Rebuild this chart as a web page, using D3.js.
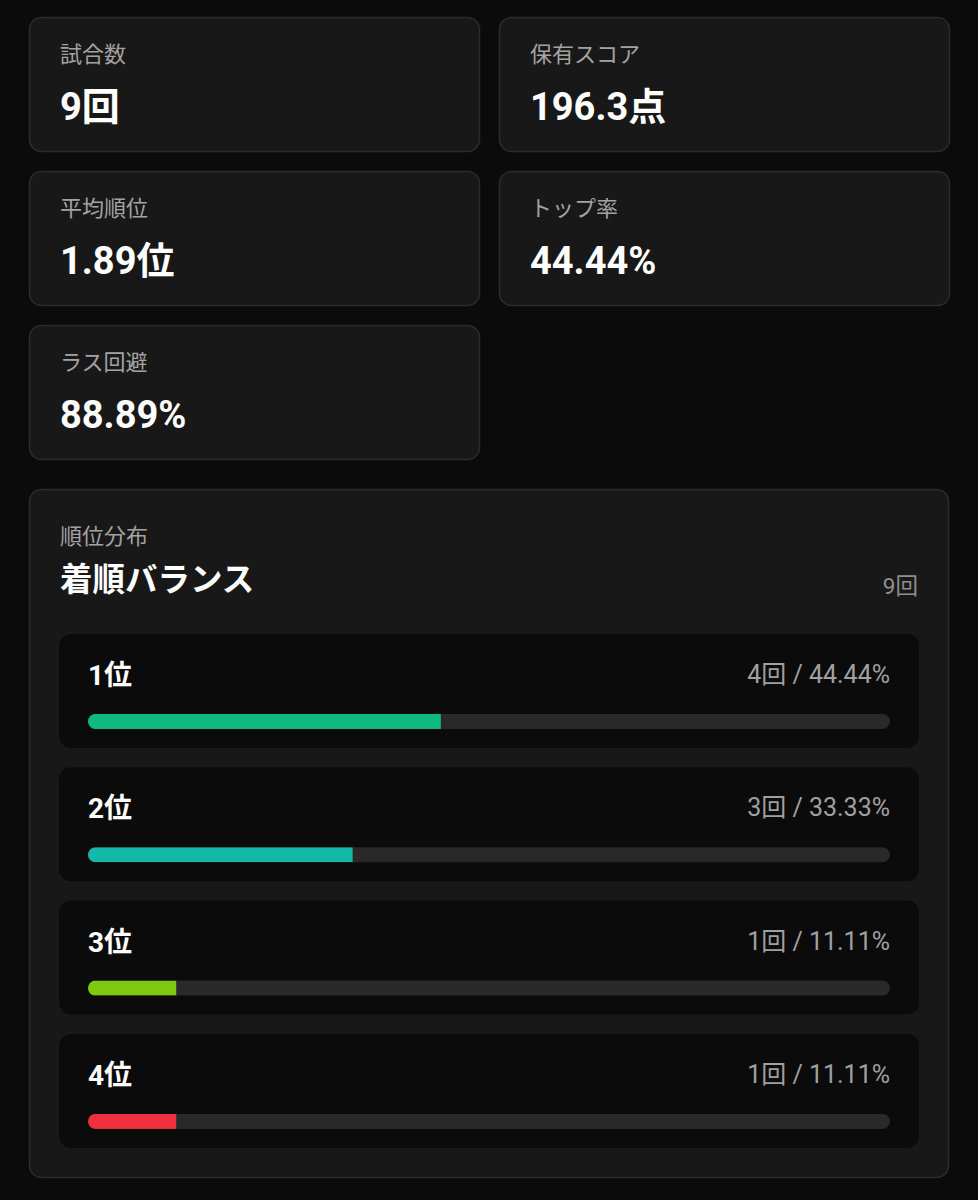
<!DOCTYPE html>
<html><head><meta charset="utf-8">
<script src="https://cdn.jsdelivr.net/npm/d3@7"></script>
<style>
html,body{margin:0;padding:0;background:#0b0b0b;}
svg{display:block;font-family:Roboto,"Noto Sans CJK JP",sans-serif;}
</style></head>
<body>
<svg id="c" width="978" height="1200"></svg>
<script>
const statLabels = ["試合数","保有スコア","平均順位","トップ率","ラス回避"];
const statValues = ["9回","196.3点","1.89位","44.44%","88.89%"];
const panelSub = "順位分布";
const panelTitle = "着順バランス";
const totalGames = 9;
const ranks = ["1位","2位","3位","4位"];
const counts = [4,3,1,1];
const rates = [44.44,33.33,11.11,11.11];
const rankColors = ["#10b981","#14b8a6","#7ec810","#f0303e"];

const svg = d3.select("#c");
svg.append("rect").attr("width",978).attr("height",1200).attr("fill","#0b0b0b");

// stat cards
const cardW = 450, cardH = 134, gapX = 20, gapY = 20, x0 = 29.5, y0 = 17.5;
const cards = svg.selectAll("g.card").data(statLabels.map((l,i)=>({l,v:statValues[i],i})))
  .join("g").attr("class","card")
  .attr("transform",d=>`translate(${x0 + (d.i%2)*(cardW+gapX)},${y0 + Math.floor(d.i/2)*(cardH+gapY)})`);
cards.append("rect").attr("width",cardW).attr("height",cardH).attr("rx",12)
  .attr("fill","#181818").attr("stroke","#2c2c2c").attr("stroke-width",1.5);
cards.append("text").attr("x",30.5).attr("y",44.5).attr("fill","#a3a3a3")
  .attr("font-size",22).text(d=>d.l);
cards.append("text").attr("x",30.5).attr("y",102.5).attr("fill","#ffffff")
  .attr("font-size",38).attr("font-weight",700).text(d=>d.v);

// panel
const px = 29.5, py = 489.5, pw = 919, ph = 688;
const panel = svg.append("g").attr("transform",`translate(${px},${py})`);
panel.append("rect").attr("width",pw).attr("height",ph).attr("rx",12)
  .attr("fill","#181818").attr("stroke","#2c2c2c").attr("stroke-width",1.5);
panel.append("text").attr("x",30.5).attr("y",54.5).attr("fill","#a3a3a3").attr("font-size",22).text(panelSub);
panel.append("text").attr("x",30.5).attr("y",101.5).attr("fill","#ffffff").attr("font-size",32.5).attr("font-weight",700).text(panelTitle);
panel.append("text").attr("x",888.5).attr("y",104.5).attr("text-anchor","end").attr("fill","#8f8f8f").attr("font-size",22.5).text(totalGames+"回");

const rowX = 59, rowW = 860, rowH = 114, rowGap = 19.3, rowY0 = 634;
const trackX0 = 88, trackX1 = 890;
const x = d3.scaleLinear().domain([0,100]).range([88,882]);
const trackH = 15, trackOff = 80;

const defs = svg.append("defs");
ranks.forEach((r,i)=>{
  const ry = rowY0 + i*(rowH+rowGap);
  defs.append("clipPath").attr("id","clip"+i).append("rect")
    .attr("x",trackX0).attr("y",ry+trackOff).attr("width",trackX1-trackX0).attr("height",trackH).attr("rx",trackH/2);
});

const rows = svg.selectAll("g.row").data(ranks.map((r,i)=>({r,i,c:counts[i],p:rates[i],col:rankColors[i]})))
  .join("g").attr("class","row");
rows.append("rect").attr("x",rowX).attr("y",d=>rowY0+d.i*(rowH+rowGap)).attr("width",rowW).attr("height",rowH)
  .attr("rx",12).attr("fill","#0b0b0b");
rows.append("text").attr("x",88).attr("y",d=>rowY0+d.i*(rowH+rowGap)+51).attr("fill","#ffffff")
  .attr("font-size",28).attr("font-weight",700).text(d=>d.r);
rows.append("text").attr("x",890).attr("y",d=>rowY0+d.i*(rowH+rowGap)+49).attr("text-anchor","end")
  .attr("fill","#a0a0a0").attr("font-size",25).text(d=>`${d.c}回 / ${d.p.toFixed(2)}%`);
rows.append("rect").attr("x",trackX0).attr("y",d=>rowY0+d.i*(rowH+rowGap)+trackOff).attr("width",trackX1-trackX0)
  .attr("height",trackH).attr("rx",trackH/2).attr("fill","#292929");
rows.append("rect").attr("clip-path",d=>`url(#clip${d.i})`).attr("x",x(0)).attr("y",d=>rowY0+d.i*(rowH+rowGap)+trackOff)
  .attr("width",d=>x(d.p)-x(0)).attr("height",trackH).attr("fill",d=>d.col);
</script>
</body></html>
